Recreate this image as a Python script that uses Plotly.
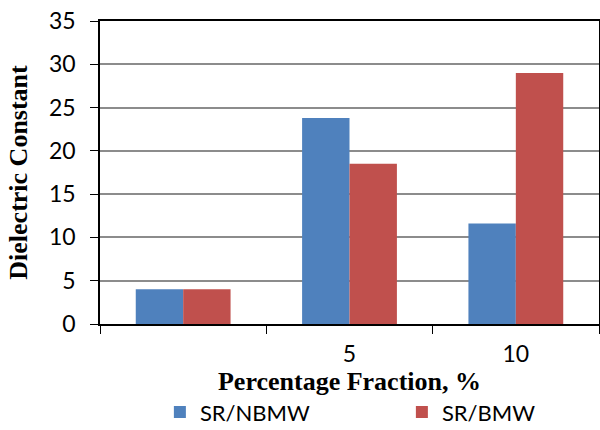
import plotly.graph_objects as go

categories = ["0", "5", "10"]
tick_labels = ["", "5", "10"]
sr_nbmw = [4.0, 23.8, 11.6]
sr_bmw = [4.0, 18.5, 29.0]

fig = go.Figure()
fig.add_trace(go.Bar(x=categories, y=sr_nbmw, name="SR/NBMW",
                     marker=dict(color="#4F81BD", line=dict(width=0))))
fig.add_trace(go.Bar(x=categories, y=sr_bmw, name="SR/BMW",
                     marker=dict(color="#C0504D", line=dict(width=0))))

tick_font = dict(family="Lato, Liberation Sans, sans-serif", size=23, color="black")
legend_font = dict(family="Lato, Liberation Sans, sans-serif", size=22, color="black")
title_font = dict(family="Liberation Serif, Times New Roman, serif", size=26, color="black")

fig.update_layout(
    width=600, height=430,
    margin=dict(l=100, r=1, t=21, b=106, autoexpand=False),
    paper_bgcolor="white", plot_bgcolor="white",
    barmode="group", bargap=0.43, bargroupgap=0,
    showlegend=True,
    legend=dict(orientation="h", x=0.12, xanchor="left", y=-0.222, yanchor="top",
                font=legend_font, entrywidth=197, itemwidth=30,
                tracegroupgap=0),
    xaxis=dict(
        type="category", tickvals=categories, ticktext=tick_labels,
        tickson="boundaries", ticks="outside", ticklen=8, tickcolor="black",
        showline=True, linecolor="black", linewidth=1.5, mirror=True,
        showgrid=False, tickfont=tick_font, ticklabelstandoff=9,
        title=dict(text="<b>Percentage Fraction, %</b>", font=title_font, standoff=0),
    ),
    yaxis=dict(
        range=[0, 35], dtick=5, ticks="outside", ticklen=8, tickcolor="black",
        showline=True, linecolor="black", linewidth=1.5, mirror=True,
        showgrid=True, gridcolor="#8C8C8C", gridwidth=1.5,
        tickfont=tick_font, zeroline=False, ticklabelstandoff=10,
        title=dict(text="<b>Dielectric Constant</b>", font=title_font, standoff=14),
    ),
)

fig.write_html("out.html")
